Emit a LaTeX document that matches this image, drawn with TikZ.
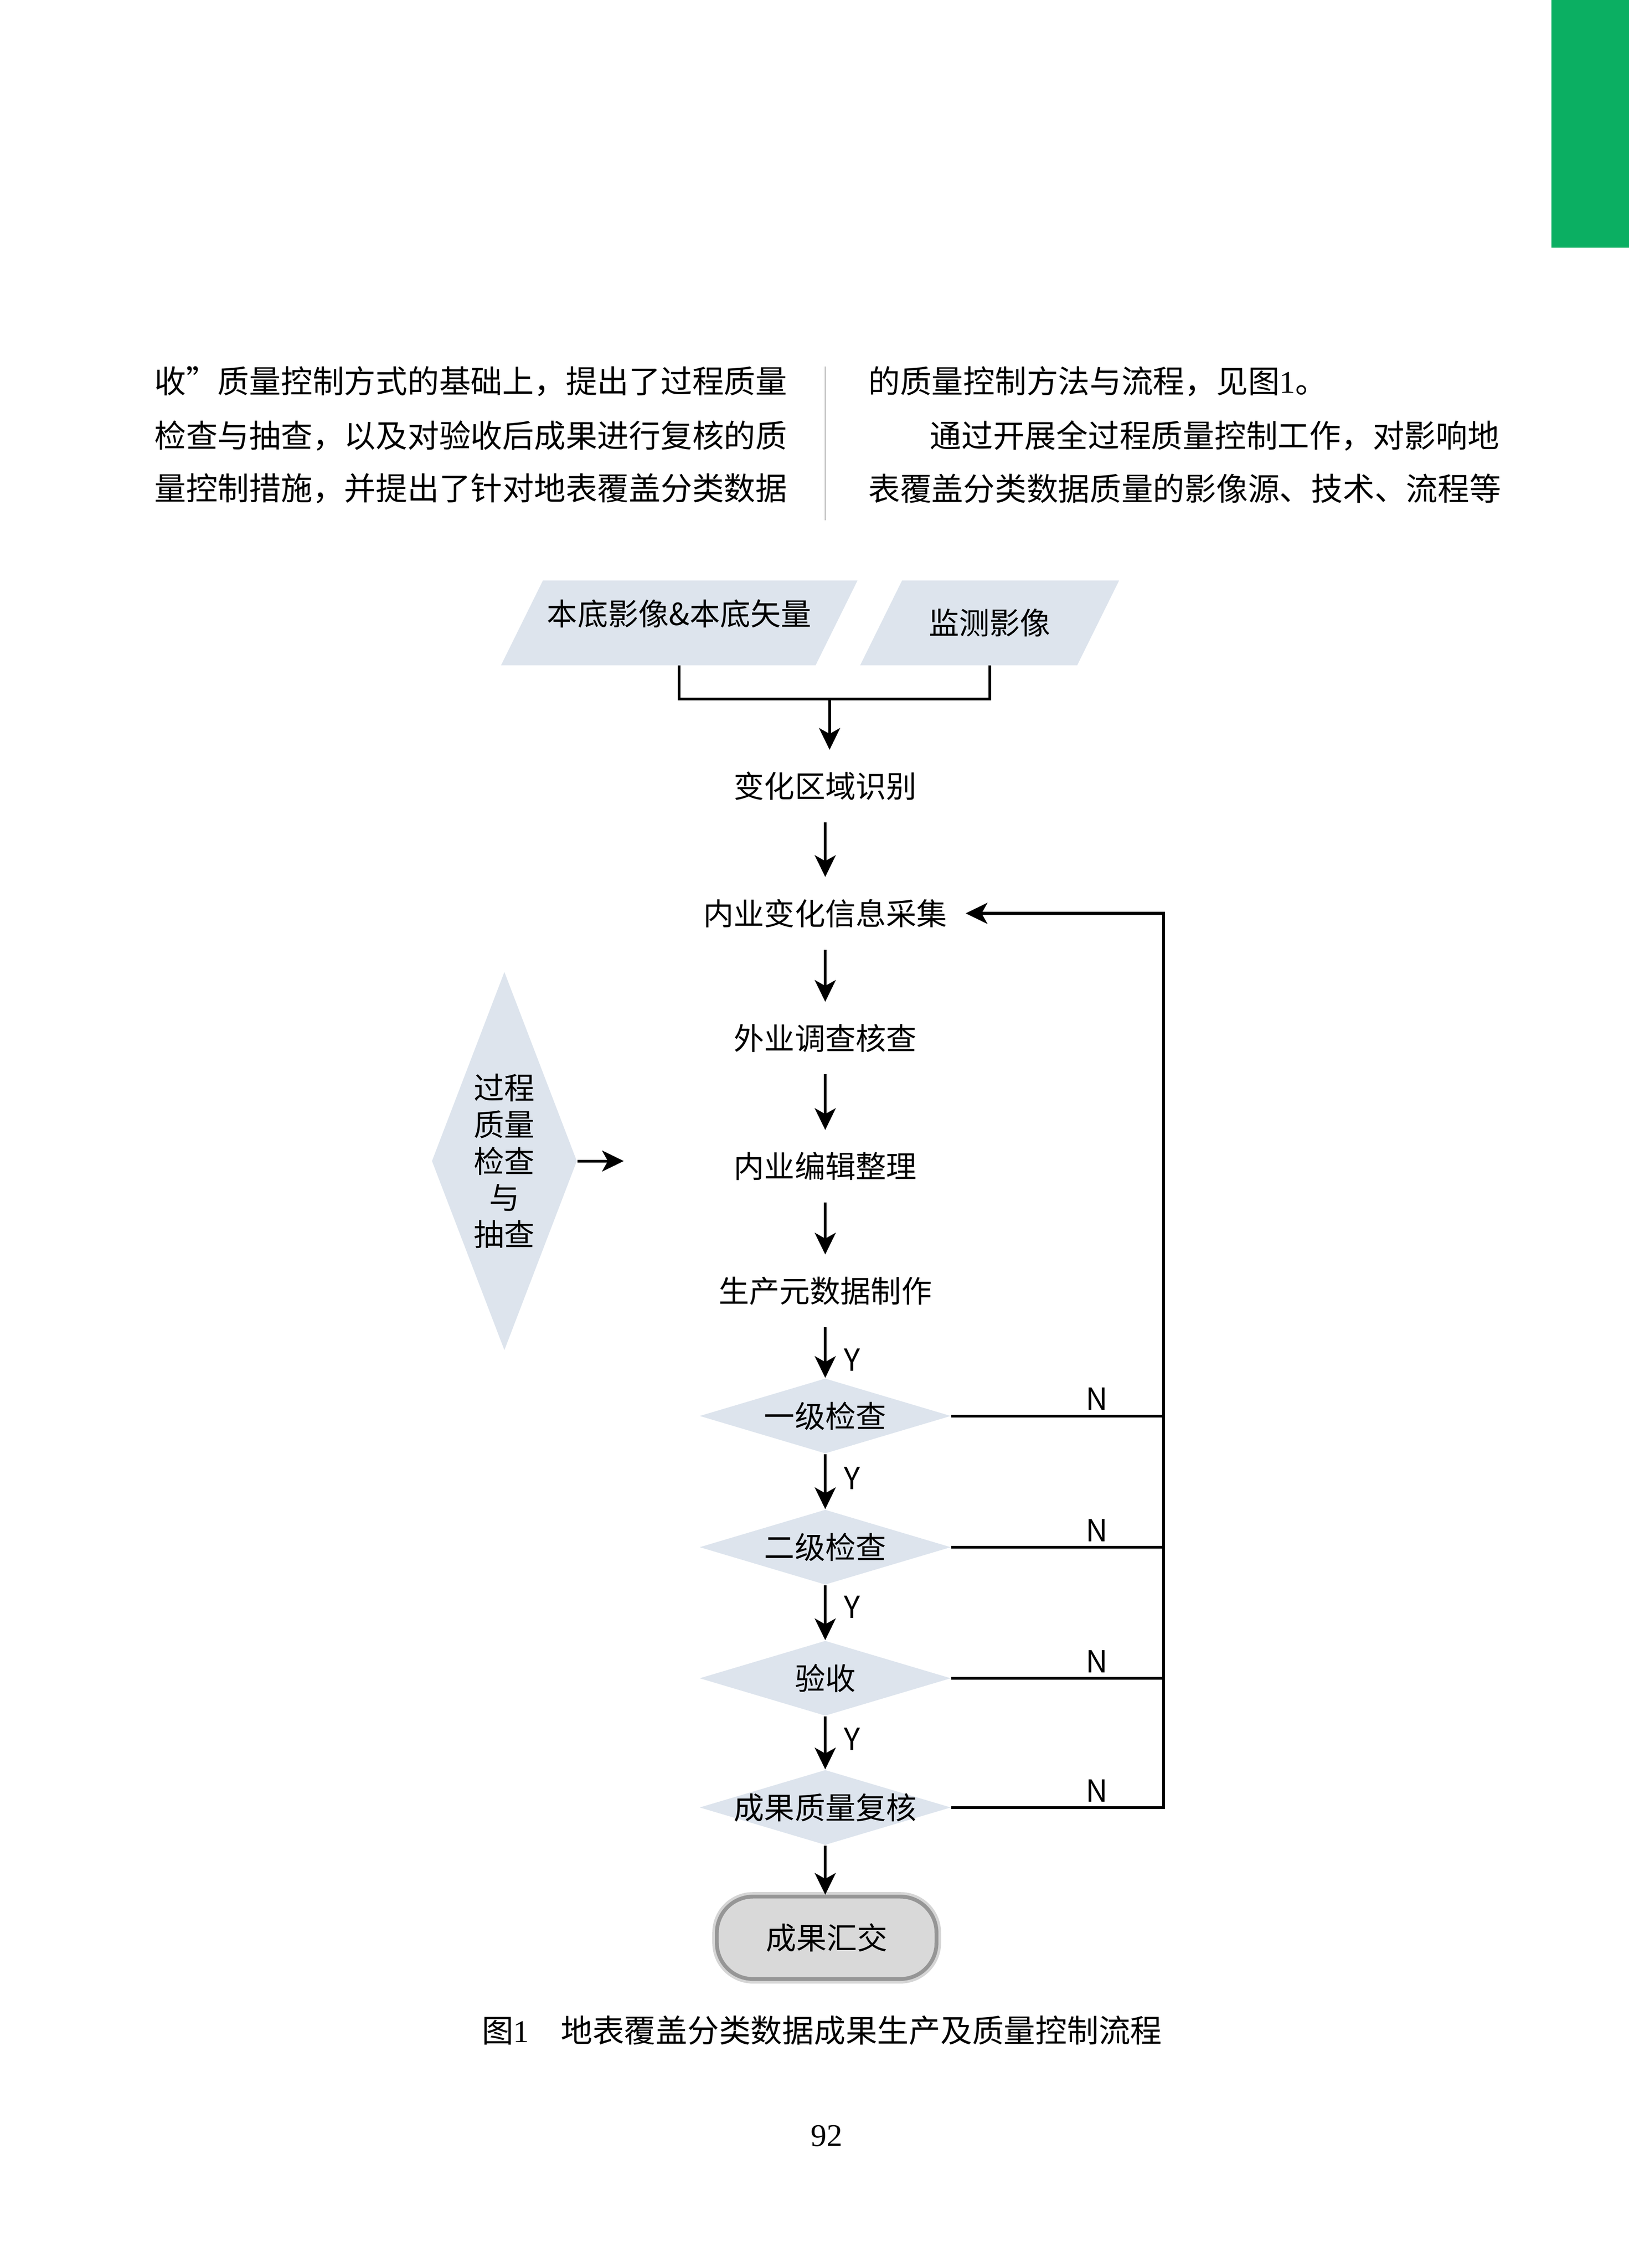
\documentclass[tikz,border=0pt]{standalone}
\usepackage{fontspec}
\usetikzlibrary{arrows.meta,shapes.geometric,backgrounds,calc}
\newfontfamily\cjk{Noto Sans CJK SC}
\newfontfamily\digits{Liberation Serif}
\newcommand{\bodyfont} {\fontsize{12.46}{15}\cjk}
\newcommand{\chartfont}{\fontsize{12}{14.4}\cjk}
\definecolor{tabgreen}{RGB}{11,175,98}
\definecolor{boxfill} {RGB}{221,228,237}
\definecolor{endfill} {RGB}{217,217,217}
\definecolor{endline} {RGB}{150,150,150}
\tikzset{
  body/.style    ={anchor=west, inner sep=0pt, font=\bodyfont},
  task/.style    ={inner sep=0pt, font=\chartfont},
  source/.style  ={task, minimum height=1.16cm},
  check/.style   ={diamond, fill=boxfill, task, aspect=3.35, inner xsep=-0.3cm, minimum width=3.48cm, minimum height=1.04cm},
  process/.style ={diamond, fill=boxfill, task, aspect=0.38, align=center, minimum width=2.01cm, minimum height=5.24cm},
  terminal/.style={task, rectangle, rounded corners=0.5cm, fill=endfill, draw=endline, line width=1.5pt,
                   minimum width=3.04cm, minimum height=1.14cm, preaction={draw=endline!40, line width=3.6pt}},
  link/.style    ={line width=1.1pt},
  flow/.style    ={link, -{Stealth[length=0.3cm, width=0.29cm, inset=0.08cm]}, shorten <=0.3cm, shorten >=0.3cm},
  yes/.style     ={task, anchor=west, xshift=0.24cm},
  no/.style      ={task, anchor=south, yshift=0.06cm},
}

\begin{document}
\begin{tikzpicture}[x=0.02cm, y=-0.02cm]
   \useasboundingbox (0,0) rectangle (1127,1569.4);
   % page around the figure
   \fill[tabgreen] (1073.4,0) rectangle (1127,171.5);
   \draw[gray!60, line width=0.4pt] (571,253.6) -- (571,360);
   \node[body] (l1) at (106.5,264)   {收\makebox[1em][l]{”}质量控制方式的基础上，提出了过程质量};
   \node[body] (l2) at (106.5,301.5) {检查与抽查，以及对验收后成果进行复核的质};
   \node[body] (l3) at (106.5,338)   {量控制措施，并提出了针对地表覆盖分类数据};
   \node[body] (r1) at (600.5,264)   {的质量控制方法与流程，见图{\digits 1}。};
   \node[body] (r2) at (643,301.5)   {通过开展全过程质量控制工作，对影响地};
   \node[body] (r3) at (600.5,338)   {表覆盖分类数据质量的影像源、技术、流程等};
   \node[body] (caption) at (333,1405.1) {图{\digits 1}\hspace{1em}地表覆盖分类数据成果生产及质量控制流程};
   \node[inner sep=0pt, font=\fontsize{12.46}{15}\digits] (page) at (572,1478) {92};

   % flow chart
   \node[source, minimum width=3.76cm, text height=0.37cm, text depth=0.3cm] (base) at (470,431) {本底影像\&本底矢量};
   \node[source, minimum width=2.41cm] (watch) at (684.75,431) {监测影像};
   \coordinate (join) at (574,483.6);
   \node[task]  (detect)  at (571,544)    {变化区域识别};
   \node[task]  (collect) at (571,632)    {内业变化信息采集};
   \node[task]  (survey)  at (571,718.3)  {外业调查核查};
   \node[task]  (edit)    at (571,807)    {内业编辑整理};
   \node[task]  (meta)    at (571,893.2)  {生产元数据制作};
   \node[check] (first)   at (571,979.8)  {一级检查};
   \node[check] (second)  at (571,1070.6) {二级检查};
   \node[check] (accept)  at (571,1161.3) {验收};
   \node[check] (recheck) at (571,1250.7) {成果质量复核};
   \node[terminal] (finish) at (572,1340.9) {成果汇交};
   \node[process] (side) at (349,803.4) {过程\\质量\\检查\\与\\抽查};
   \coordinate (sidetip) at (431.6,803.4);
   \coordinate (back) at (805,632);

   \begin{scope}[on background layer]
      \foreach \n in {base,watch}
         \fill[boxfill] (\n.north west) -- ($(\n.north east)+(29,0)$) -- (\n.south east) -- ($(\n.south west)+(-29,0)$) -- cycle;
   \end{scope}

   \draw[link] (base.south)  |- (join);
   \draw[link] (watch.south) |- (join);
   \draw[flow, shorten <=0pt] (join) -- (join |- detect.north);
   \draw[flow] (detect) -- (collect);
   \draw[flow] (collect) -- (survey);
   \draw[flow] (survey) -- (edit);
   \draw[flow] (edit) -- (meta);
   \draw[flow, shorten >=0pt] (meta) -- node[yes, pos=0.75] {Y} (first);
   \draw[flow, shorten <=0pt, shorten >=0pt] (first)  -- node[yes, pos=0.44] {Y} (second);
   \draw[flow, shorten <=0pt, shorten >=0pt] (second) -- node[yes, pos=0.40] {Y} (accept);
   \draw[flow, shorten <=0pt, shorten >=0pt] (accept) -- node[yes, pos=0.43] {Y} (recheck);
   \draw[flow, shorten <=0pt, shorten >=0pt] (recheck.south) -- (recheck.south |- finish.north);
   \draw[flow, shorten <=0pt, shorten >=0pt] (side.east) -- (sidetip);

   % back to the office collection
   \draw[link] (first.east)  -- node[no, pos=0.686] {N} (first.east -| back);
   \draw[link] (second.east) -- node[no, pos=0.686] {N} (second.east -| back);
   \draw[link] (accept.east) -- node[no, pos=0.686] {N} (accept.east -| back);
   \draw[flow, shorten <=0pt, shorten >=0.25cm] (recheck.east) -- node[no, pos=0.686] {N} (recheck.east -| back)
        -- (back) -- (back -| collect.east);
\end{tikzpicture}
\end{document}
